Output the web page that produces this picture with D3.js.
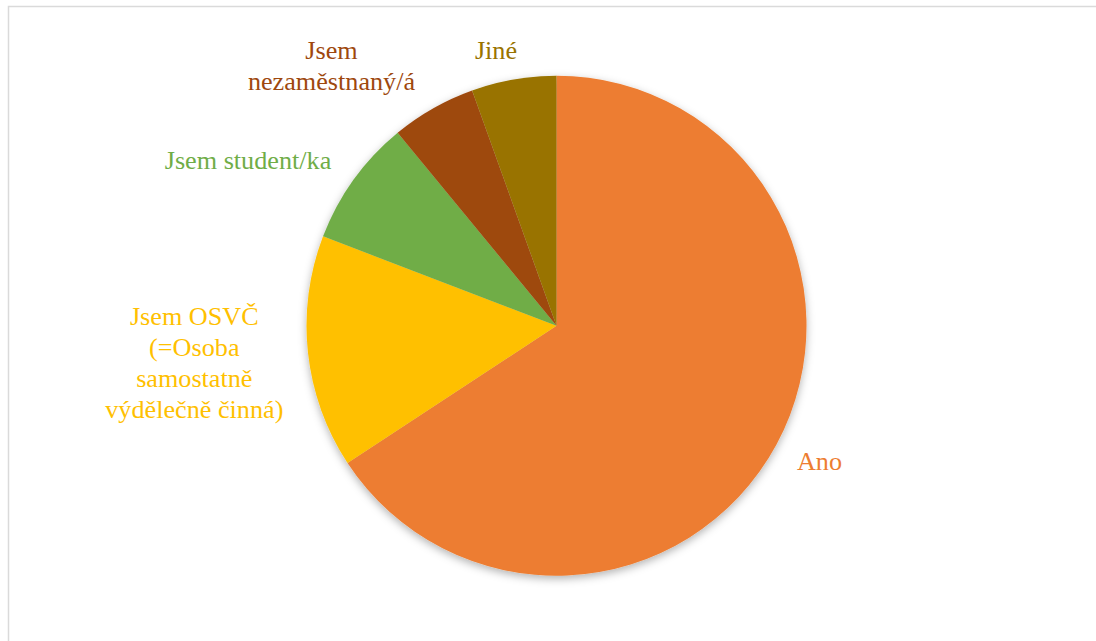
<!DOCTYPE html>
<html>
<head>
<meta charset="utf-8">
<script src="https://cdn.jsdelivr.net/npm/d3@7"></script>
<style>
  html, body { margin: 0; padding: 0; background: #ffffff; }
  svg { display: block; }
</style>
</head>
<body>
<svg id="chart" width="1096" height="641"></svg>
<script>
// Answer categories, in clockwise order from twelve o'clock
const categories = [
  "Ano",
  "Jsem OSVČ (=Osoba samostatně výdělečně činná)",
  "Jsem student/ka",
  "Jsem nezaměstnaný/á",
  "Jiné"
];
// Number of respondents per answer
const counts = [48, 11, 6, 4, 4];
// Label text split into display lines
const labelLines = [
  ["Ano"],
  ["Jsem OSVČ", "(=Osoba", "samostatně", "výdělečně činná)"],
  ["Jsem student/ka"],
  ["Jsem", "nezaměstnaný/á"],
  ["Jiné"]
];
const colors = ["#ED7D31", "#FFC000", "#70AD47", "#9E480E", "#997300"];

const svg = d3.select("#chart");

// Chart area frame
svg.append("rect")
  .attr("x", 8.5).attr("y", 6.5)
  .attr("width", 1200).attr("height", 1000)
  .attr("fill", "#ffffff")
  .attr("stroke", "#dadada")
  .attr("stroke-width", 1.5);

// Soft shadow beneath the pie
const defs = svg.append("defs");
const f = defs.append("filter").attr("id", "pieShadow")
  .attr("x", "-10%").attr("y", "-10%").attr("width", "120%").attr("height", "125%");
f.append("feDropShadow")
  .attr("dx", 0).attr("dy", 3)
  .attr("stdDeviation", 4)
  .attr("flood-color", "#000").attr("flood-opacity", 0.3);

const cx = 556.5, cy = 325.75, radius = 250;

const pie = d3.pie().sort(null).value(d => d);
const arcs = pie(counts);
const arc = d3.arc().innerRadius(0).outerRadius(radius);

const g = svg.append("g").attr("transform", `translate(${cx},${cy})`);
const pieG = g.append("g").attr("filter", "url(#pieShadow)");
pieG.selectAll("path")
  .data(arcs)
  .join("path")
  .attr("d", arc)
  .attr("fill", (d, i) => colors[i]);

// Label placement: centre x and first-line baseline, relative to pie centre
const labelLayout = [
  { dx: 263, dy: 144.5 },
  { dx: -362.2, dy: -0.75 },
  { dx: -308.5, dy: -156.5 },
  { dx: -225, dy: -266.5 },
  { dx: -60.5, dy: -266.5 }
];
const lineHeight = 30.9;

// One text element per label line
const lineData = [];
arcs.forEach((a, i) => {
  labelLines[i].forEach((line, k) => {
    lineData.push({
      text: line,
      color: colors[i],
      x: labelLayout[i].dx,
      y: labelLayout[i].dy + k * lineHeight
    });
  });
});

g.append("g").selectAll("text")
  .data(lineData)
  .join("text")
  .style("font-family", '"Liberation Serif"')
  .style("font-size", "26.2px")
  .attr("text-anchor", "middle")
  .attr("fill", d => d.color)
  .attr("x", d => d.x)
  .attr("y", d => d.y)
  .text(d => d.text);
</script>
</body>
</html>
